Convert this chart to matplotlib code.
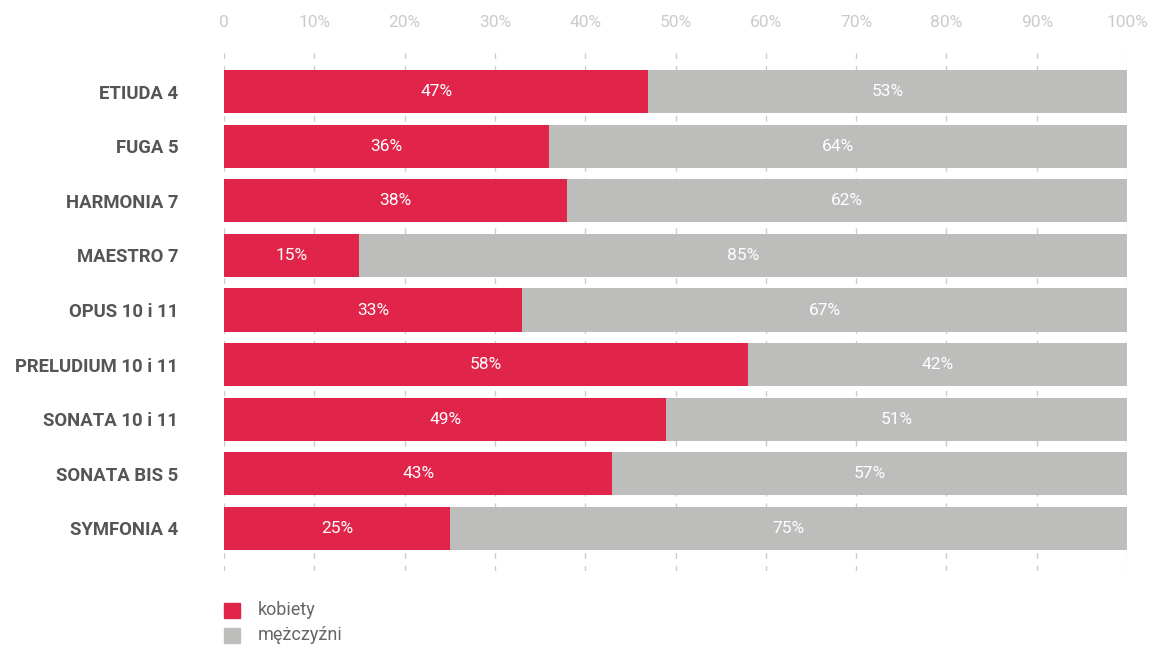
import matplotlib
matplotlib.use("Agg")
import matplotlib.pyplot as plt
from matplotlib.patches import Rectangle

categories = ["ETIUDA 4", "FUGA 5", "HARMONIA 7", "MAESTRO 7", "OPUS 10 i 11",
              "PRELUDIUM 10 i 11", "SONATA 10 i 11", "SONATA BIS 5", "SYMFONIA 4"]
kobiety = [47, 36, 38, 15, 33, 58, 49, 43, 25]
mezczyzni = [53, 64, 62, 85, 67, 42, 51, 57, 75]
series_names = ["kobiety", "mężczyźni"]
xticks = [0, 10, 20, 30, 40, 50, 60, 70, 80, 90, 100]
xtick_labels = ["0"] + [f"{v}%" for v in xticks[1:]]

RED = "#E1254A"
GRAY = "#BDBDBC"
FONT = "Roboto"

fig = plt.figure(figsize=(11.52, 6.45), dpi=100)
ax = fig.add_axes([224/1152, 1 - 571/645, (1127-224)/1152, (571-49)/645])

y = list(range(len(categories)))
ax.barh(y, kobiety, height=0.79, color=RED, zorder=2)
ax.barh(y, mezczyzni, left=kobiety, height=0.79, color=GRAY, zorder=2)

for i, (k, m) in enumerate(zip(kobiety, mezczyzni)):
    ax.text(k / 2, i, f"{k}%", ha="center", va="center", color="white",
            fontsize=12.5, family=FONT, zorder=3)
    ax.text(k + m / 2, i, f"{m}%", ha="center", va="center", color="white",
            fontsize=12.5, family=FONT, zorder=3)

ax.set_xlim(0, 100)
ax.set_ylim(len(categories) - 1 + 0.78, -0.78)
ax.set_xticks(xticks)
ax.set_xticklabels(xtick_labels, family=FONT, fontsize=12.5, color="#CBCBCB")
ax.xaxis.tick_top()
ax.tick_params(axis="x", length=0, pad=14)
ax.set_yticks(y)
ax.set_yticklabels(categories, family=FONT, fontsize=13.3, fontweight="bold", color="#555555")
ax.tick_params(axis="y", length=0, pad=33)
for s in ax.spines.values():
    s.set_visible(False)
ax.grid(axis="x", color="#CCCCCC", linestyle=(0, (4, 5)), linewidth=1, zorder=0)
ax.grid(axis="y", visible=False)

# legend
for j, (name, col) in enumerate(zip(series_names, [RED, GRAY])):
    yc = 1 - (610 + 25 * j) / 645
    fig.patches.append(Rectangle((224/1152, yc - 7.5/645), 16/1152, 15/645,
                                 transform=fig.transFigure, color=col))
    fig.text(258/1152, yc, name, va="center", ha="left", family=FONT,
             fontsize=13, color="#666666")

fig.savefig("out.png", dpi=100)
